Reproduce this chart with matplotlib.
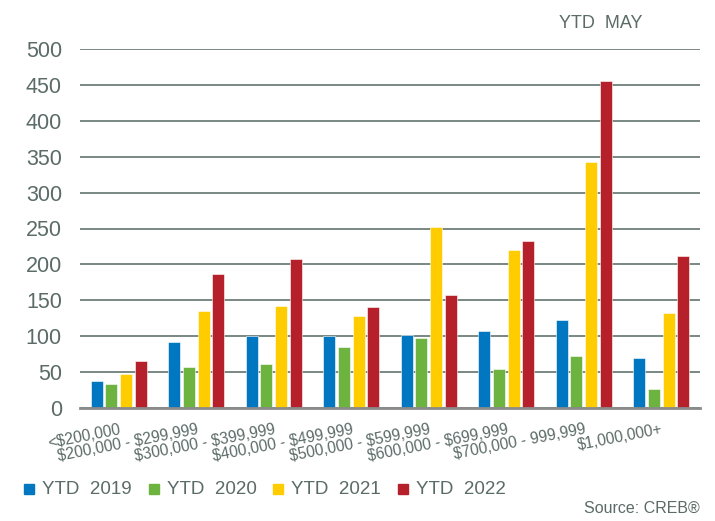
import matplotlib
matplotlib.use("Agg")
import matplotlib.pyplot as plt
from matplotlib.patches import Rectangle
import numpy as np

plt.rcParams['font.family'] = ['Liberation Sans', 'DejaVu Sans']
plt.rcParams['text.parse_math'] = False

categories = ["<$200,000", "$200,000 - $299,999", "$300,000 - $399,999",
              "$400,000 - $499,999", "$500,000 - $599,999", "$600,000 - $699,999",
              "$700,000 - 999,999", "$1,000,000+"]
series_names = ["YTD  2019", "YTD  2020", "YTD  2021", "YTD  2022"]
ytd_2019 = [37, 92, 100, 100, 102, 107, 122, 70]
ytd_2020 = [34, 57, 61, 85, 97, 55, 73, 27]
ytd_2021 = [47, 135, 142, 128, 252, 220, 342, 133]
ytd_2022 = [66, 187, 208, 140, 158, 233, 455, 212]
y_ticks = [0, 50, 100, 150, 200, 250, 300, 350, 400, 450, 500]

colors = ["#0077c0", "#6db33f", "#ffcc00", "#b5202a"]
text_color = "#5b6b67"
grid_color = "#6f7f7b"

fig = plt.figure(figsize=(7.15, 5.21), dpi=100)
ax = fig.add_axes([80 / 715, 1 - 408 / 521, 620 / 715, 359 / 521])

x = np.arange(len(categories))
pitch = 0.188
width = 0.155
for i, (vals, col) in enumerate(zip([ytd_2019, ytd_2020, ytd_2021, ytd_2022], colors)):
    ax.bar(x + (i - 1.5) * pitch, vals, width=width, color=col, zorder=3,
           edgecolor="white", linewidth=0.4)

ax.set_xlim(-0.5, len(categories) - 0.5)
ax.set_ylim(0, 500)
ax.set_yticks(y_ticks)
ax.yaxis.grid(True, color=grid_color, linewidth=1.3, zorder=0)
ax.set_axisbelow(True)
for s in ["left", "right", "top"]:
    ax.spines[s].set_visible(False)
ax.spines["bottom"].set_color("#8a8a8a")
ax.spines["bottom"].set_linewidth(2)
ax.spines["bottom"].set_zorder(4)
ax.tick_params(axis="both", length=0)
ax.tick_params(axis="y", labelsize=15.5, labelcolor=text_color, pad=13)

ax.set_xticks(x)
ax.set_xticklabels(categories, rotation=11, ha="right", va="top",
                   rotation_mode="anchor", fontsize=11.2, color=text_color)
ax.tick_params(axis="x", pad=10)

fig.text(559 / 715, 1 - 23 / 521, "YTD  MAY", fontsize=13, color=text_color,
         ha="left", va="center")

# legend row
leg_x = [24, 149, 273, 398]
leg_y = 489
for lx, name, col in zip(leg_x, series_names, colors):
    fig.patches.append(Rectangle((lx / 715, 1 - (leg_y + 5) / 521), 10 / 715, 10 / 521,
                                 transform=fig.transFigure, color=col))
    fig.text((lx + 18) / 715, 1 - leg_y / 521, name, fontsize=13.5,
             color=text_color, ha="left", va="center")

fig.text(700 / 715, 1 - 508 / 521, "Source: CREB®", fontsize=11.5,
         color=text_color, ha="right", va="center")

fig.savefig("out.png", dpi=100, facecolor="white")
